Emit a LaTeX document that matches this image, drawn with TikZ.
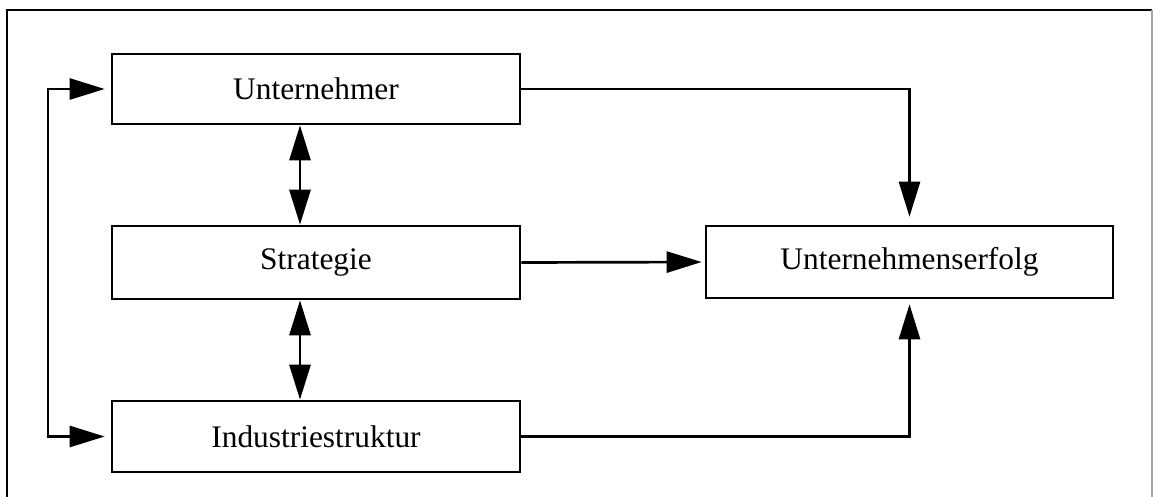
\documentclass[tikz,border=0pt]{standalone}
\usepackage{fontspec}
\setmainfont{Liberation Serif}
\usetikzlibrary{arrows.meta}
\begin{document}
\begin{tikzpicture}[x=0.5pt,y=-0.5pt,
  box/.style={draw=black, line width=1.3pt, minimum width=204pt, minimum height=36pt,
    inner sep=0pt, font=\fontsize{15.7}{18}\selectfont},
  conn/.style={line width=1.35pt, line join=miter},
  tip/.style={-{Triangle[length=17.5pt,width=10.5pt]}},
  tips/.style={{Triangle[length=17.5pt,width=10.5pt]}-{Triangle[length=17.5pt,width=10.5pt]}}]
  \useasboundingbox (0,0) rectangle (1153,497);
  \clip (0,0) rectangle (1153,497);
  % outer frame: left and top edges solid, right edge faint
  \draw[line width=1.3pt] (7,520) -- (7,10) -- (1152,10);
  \draw[line width=0.6pt, black!35] (1152,10) -- (1152,520);

  % boxes
  \node[box, minimum height=35pt] (u) at (316,89) {Unternehmer};
  \node[box, minimum height=36.5pt] (s) at (316,262.5) {Strategie};
  \node[box, minimum height=35.5pt] (i) at (316,436.5) {Industriestruktur};
  \node[box, minimum width=203.5pt] (e) at (909.5,262) {Unternehmenserfolg};

  % helper columns for vertical connectors
  \coordinate (ax) at (300,0);
  \coordinate (fb) at (48,0);

  % feedback loop on the left
  \draw[conn, tips, shorten <=3pt, shorten >=3pt]
    (u.west) -- (fb |- u.west) -- (fb |- i.west) -- (i.west);

  % mutual links in the left column
  \draw[conn, tips] (u.south -| ax) -- (s.north -| ax);
  \draw[conn, tips] (s.south -| ax) -- (i.north -| ax);

  % effects on the outcome
  \draw[conn, tip, shorten >=4pt] (u.east) -| (e.north);
  \draw[conn, tip, shorten >=1.5pt] (s.east) -- (e.west);
  \draw[conn, tip, shorten >=2.5pt] (i.east) -| (e.south);
\end{tikzpicture}
\end{document}
